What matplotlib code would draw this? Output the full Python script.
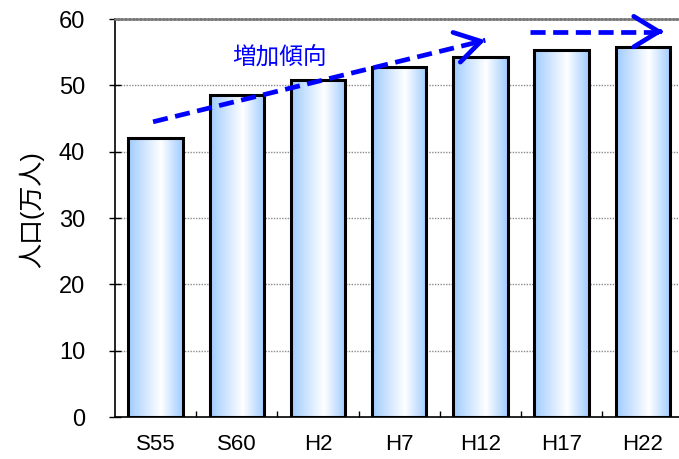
import numpy as np
import matplotlib
matplotlib.use('Agg')
import matplotlib.pyplot as plt
from matplotlib.colors import LinearSegmentedColormap

# population by census year (10k persons)
years = ['S55', 'S60', 'H2', 'H7', 'H12', 'H17', 'H22']
population = [42.0, 48.5, 50.8, 52.7, 54.2, 55.4, 55.8]
y_ticks = [0, 10, 20, 30, 40, 50, 60]

# trend arrows: (x0, y0) -> (x1, y1) in data units
trend_up = [(-0.03, 44.5), (4.06, 56.8)]
trend_flat = [(4.61, 58.1), (6.25, 58.1)]
trend_text = '増加傾向'

plt.rcParams['font.family'] = ['Liberation Sans', 'Noto Sans CJK JP']

fig = plt.figure(figsize=(6.79, 4.59), dpi=100)
ax = fig.add_axes([0.1692, 0.0915, 0.8375, 0.8671])

x = np.arange(len(years))
width = 0.67
bar_cmap = LinearSegmentedColormap.from_list(
    'barfill', [(0.0, '#9fcbff'), (0.6, '#ffffff'), (1.0, '#9fcbff')])
grad = np.linspace(0, 1, 256).reshape(1, -1)

bars = ax.bar(x, population, width=width, facecolor='none',
              edgecolor='black', linewidth=2.2, zorder=3)
for rect in bars:
    x0, w, h = rect.get_x(), rect.get_width(), rect.get_height()
    img = ax.imshow(grad, cmap=bar_cmap, extent=(x0, x0 + w, 0, h),
                    aspect='auto', zorder=2, interpolation='bilinear')
    img.set_clip_path(rect)

ax.set_xlim(-0.5, len(years) - 0.5)
ax.set_ylim(0, 60)

# axes styling
ax.set_axisbelow(True)
ax.yaxis.grid(True, color='#8c8c8c', linestyle=(0, (1, 1)), linewidth=1.0)
ax.spines['right'].set_visible(False)
ax.spines['top'].set_color('#7a7a7a')
ax.spines['top'].set_linewidth(1.8)
ax.spines['top'].set_linestyle((0, (1, 0.5)))
for side in ['left', 'bottom']:
    ax.spines[side].set_linewidth(1.2)
    ax.spines[side].set_color('black')

ax.set_yticks(y_ticks)
ax.tick_params(axis='y', direction='inout', length=9, width=1.0,
               labelsize=17, pad=17)
ax.set_xticks(x)
ax.set_xticklabels(years)
ax.set_xticks(x[:-1] + 0.5, minor=True)
ax.tick_params(axis='x', which='major', length=0, labelsize=16, pad=12)
ax.tick_params(axis='x', which='minor', direction='in', length=4, width=1.0)
ax.set_ylabel('人口(万人)', fontsize=18)
ax.yaxis.set_label_coords(-0.124, 0.52)


def dashed_arrow(p0, p1):
    (xa, ya), (xb, yb) = p0, p1
    ax.plot([xa, xb], [ya, yb], color='#0000ff', linewidth=3.4,
            dashes=(3.2, 1.6), solid_capstyle='butt', zorder=4,
            clip_on=False)
    t = 0.97
    ax.annotate('', xy=(xb, yb), xytext=(xa + (xb - xa) * t, ya + (yb - ya) * t),
                arrowprops=dict(arrowstyle='->,head_length=0.9,head_width=0.55',
                                color='#0000ff', linewidth=3.4,
                                mutation_scale=20, shrinkA=0, shrinkB=0),
                zorder=4, annotation_clip=False)


dashed_arrow(*trend_up)
dashed_arrow(*trend_flat)
ax.text(1.52, 54.1, trend_text, color='#0000ff', fontsize=17,
        ha='center', va='center', zorder=5)

fig.savefig('out.png', dpi=100)
